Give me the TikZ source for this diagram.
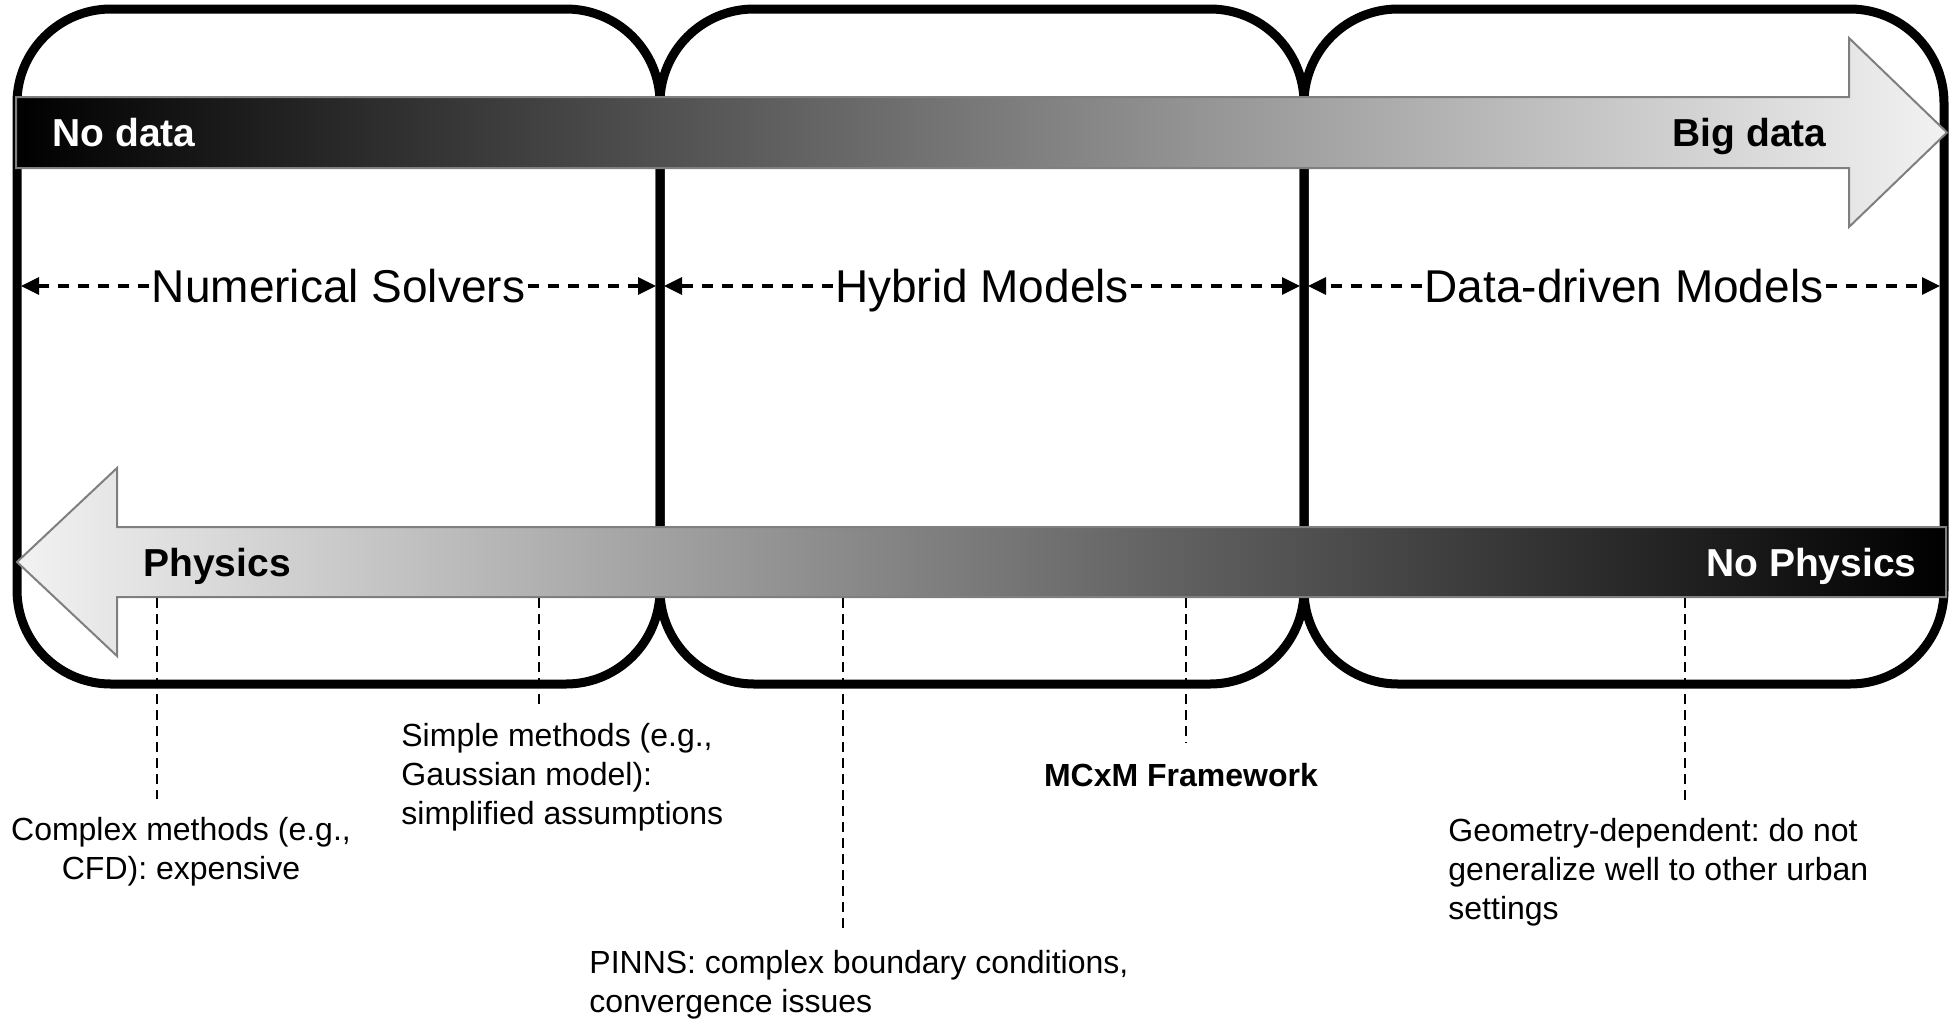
\documentclass[tikz,border=0pt]{standalone}
\usepackage{fontspec}
\setmainfont{Liberation Sans}
\usetikzlibrary{arrows.meta}
\definecolor{arrowedge}{HTML}{7F7F7F}
\definecolor{lightend}{HTML}{F2F2F2}
\frenchspacing
\begin{document}
\begin{tikzpicture}[x=0.5pt,y=-0.5pt,
  zone/.style={draw=black, line width=4.5pt, rounded corners=47pt, minimum height=337.5pt, inner sep=0pt},
  blockarrow/.style={draw=arrowedge, line width=1pt},
  zonelabel/.style={font=\fontsize{23}{27.6}\selectfont, inner sep=1pt, anchor=base},
  arrowlabel/.style={font=\fontsize{19.5}{23}\selectfont\bfseries, inner sep=0pt},
  spanarrow/.style={line width=1.6pt, dash pattern=on 5.5pt off 4.5pt, -{Triangle[length=9pt,width=8.5pt]}},
  leader/.style={line width=1.2pt, dash pattern=on 5pt off 3pt},
  note/.style={font=\fontsize{16}{19.5}\selectfont, inner sep=0pt},
  notebold/.style={font=\fontsize{16}{19.5}\selectfont\bfseries, inner sep=0pt},
]
\useasboundingbox (0,0) rectangle (1949,1018);

% zones
\node[zone, minimum width=321.5pt] (box1) at (338.5,346.5) {};
\node[zone, minimum width=322pt] (box2) at (982,346.5) {};
\node[zone, minimum width=320pt] (box3) at (1624,346.5) {};

% block arrows
\path[blockarrow, left color=black, right color=lightend]
  (16,97) -- (1849,97) -- (1849,38) -- (1947,132.5) -- (1849,227) -- (1849,168) -- (16,168) -- cycle;
\path[blockarrow, left color=lightend, right color=black]
  (1946,527) -- (117,527) -- (117,468) -- (17,562) -- (117,656) -- (117,597) -- (1946,597) -- cycle;

\node[arrowlabel, text=white, anchor=base west] (nodata) at (52,146.5) {No data};
\node[arrowlabel, anchor=base east] (bigdata) at (1827,146.5) {Big data};
\node[arrowlabel, anchor=base west] (physics) at (143,576) {Physics};
\node[arrowlabel, text=white, anchor=base east] (nophys) at (1917,576) {No Physics};

% zone labels with span arrows
\node[zonelabel] (zl1) at (338.5,302.5) {Numerical Solvers};
\node[zonelabel] (zl2) at (982,302.5) {Hybrid Models};
\node[zonelabel] (zl3) at (1624,302.5) {Data-driven Models};

\coordinate (s1l) at (21,286);
\coordinate (s1r) at (656,286);
\coordinate (s2l) at (664,286);
\coordinate (s2r) at (1300,286);
\coordinate (s3l) at (1308,286);
\coordinate (s3r) at (1940,286);

\draw[spanarrow] (zl1.west |- s1l) -- (s1l);
\draw[spanarrow] (zl1.east |- s1r) -- (s1r);
\draw[spanarrow] (zl2.west |- s2l) -- (s2l);
\draw[spanarrow] (zl2.east |- s2r) -- (s2r);
\draw[spanarrow] (zl3.west |- s3l) -- (s3l);
\draw[spanarrow] (zl3.east |- s3r) -- (s3r);

% notes
\node[note, anchor=north, align=center] (complex) at (181,816.5) {Complex methods (e.g.,\\CFD): expensive};
\node[note, anchor=north west, align=left] (simple) at (401,722.5) {Simple methods (e.g.,\\Gaussian model):\\simplified assumptions};
\node[notebold, anchor=base] (mcxm) at (1181,786) {MCxM Framework};
\node[note, anchor=north west, align=left] (pinns) at (589,949.5) {PINNS: complex boundary conditions,\\convergence issues};
\node[note, anchor=north west, align=left] (geo) at (1448,817.5) {Geometry-dependent: do not\\generalize well to other urban\\settings};

% leaders
\coordinate (l1t) at (157,598);  \coordinate (l1b) at (157,799);
\coordinate (l2t) at (539,598);  \coordinate (l2b) at (539,706);
\coordinate (l3t) at (843,598);  \coordinate (l3b) at (843,930);
\coordinate (l4t) at (1186,598); \coordinate (l4b) at (1186,743);
\coordinate (l5t) at (1685,598); \coordinate (l5b) at (1685,804);
\draw[leader] (l1t) -- (l1b);
\draw[leader] (l2t) -- (l2b);
\draw[leader] (l3t) -- (l3b);
\draw[leader] (l4t) -- (l4b);
\draw[leader] (l5t) -- (l5b);
\end{tikzpicture}
\end{document}
